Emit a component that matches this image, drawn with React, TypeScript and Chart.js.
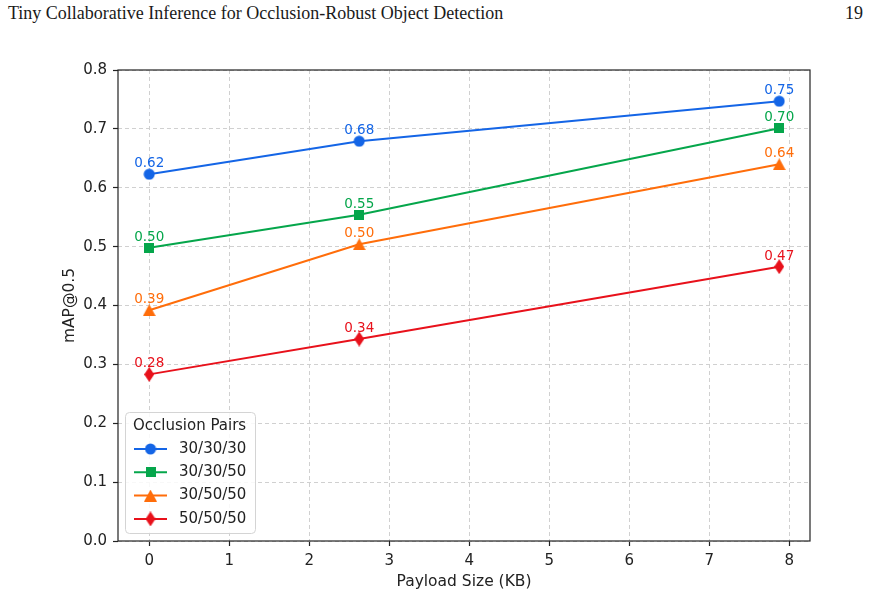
import React, { useEffect, useRef } from "react";
import { Chart, registerables } from "chart.js";

Chart.register(...registerables);

// Payload sizes (KB) at which each occlusion configuration was evaluated
const payloadKB = [0, 2.625, 7.875];

// mAP@0.5 per occlusion pair configuration
const map303030 = [0.623, 0.679, 0.747];
const map303050 = [0.498, 0.554, 0.701];
const map305050 = [0.392, 0.504, 0.64];
const map505050 = [0.283, 0.343, 0.466];

const seriesLabels = ["30/30/30", "30/30/50", "30/50/50", "50/50/50"];
const seriesColors = ["#1465e6", "#05a64b", "#ff6d0a", "#e8111b"];
const xTickValues = [0, 1, 2, 3, 4, 5, 6, 7, 8];

const HEADER_TITLE = "Tiny Collaborative Inference for Occlusion-Robust Object Detection";
const PAGE_NUMBER = "19";
const SANS = "'DejaVu Sans', sans-serif";

type Shape = "circle" | "square" | "triangle" | "thinDiamond";

function makeMarker(shape: Shape, color: string): HTMLCanvasElement {
  const c = document.createElement("canvas");
  const dims: Record<Shape, [number, number]> = {
    circle: [12, 12],
    square: [10, 10],
    triangle: [13, 12],
    thinDiamond: [10, 15],
  };
  const [w, h] = dims[shape];
  c.width = w;
  c.height = h;
  const ctx = c.getContext("2d")!;
  ctx.fillStyle = color;
  ctx.beginPath();
  if (shape === "circle") {
    ctx.arc(w / 2, h / 2, w / 2 - 0.5, 0, Math.PI * 2);
  } else if (shape === "square") {
    ctx.rect(0, 0, w, h);
  } else if (shape === "triangle") {
    ctx.moveTo(w / 2, 0);
    ctx.lineTo(w, h);
    ctx.lineTo(0, h);
    ctx.closePath();
  } else {
    ctx.moveTo(w / 2, 0);
    ctx.lineTo(w, h / 2);
    ctx.lineTo(w / 2, h);
    ctx.lineTo(0, h / 2);
    ctx.closePath();
  }
  ctx.fill();
  return c;
}

// Full rectangular frame around the plotting area
const framePlugin = {
  id: "frame",
  afterDatasetsDraw(chart: any) {
    const { ctx, chartArea: a } = chart;
    ctx.save();
    ctx.strokeStyle = "#222";
    ctx.lineWidth = 1.2;
    ctx.strokeRect(a.left, a.top, a.right - a.left, a.bottom - a.top);
    ctx.restore();
  },
};

// Value labels printed above every marker
const valueLabelPlugin = {
  id: "valueLabels",
  afterDatasetsDraw(chart: any) {
    const { ctx } = chart;
    ctx.save();
    ctx.font = `13.5px ${SANS}`;
    ctx.textAlign = "center";
    ctx.textBaseline = "alphabetic";
    chart.data.datasets.forEach((ds: any, i: number) => {
      const meta = chart.getDatasetMeta(i);
      ctx.fillStyle = ds.borderColor;
      meta.data.forEach((pt: any, j: number) => {
        const v = ds.data[j].y as number;
        ctx.fillText(v.toFixed(2), pt.x, pt.y - 7);
      });
    });
    ctx.restore();
  },
};

// Legend box in the lower-left corner of the plotting area
const legendBoxPlugin = {
  id: "legendBox",
  afterDraw(chart: any) {
    const { ctx, chartArea: a } = chart;
    const x = a.left + 7;
    const y = a.bottom - 129;
    const w = 130;
    const h = 121;
    ctx.save();
    ctx.fillStyle = "rgba(255,255,255,0.85)";
    ctx.strokeStyle = "#d4d4d4";
    ctx.lineWidth = 1;
    ctx.beginPath();
    ctx.roundRect(x + 0.5, y + 0.5, w, h, 4);
    ctx.fill();
    ctx.stroke();

    ctx.fillStyle = "#222";
    ctx.font = `15px ${SANS}`;
    ctx.textBaseline = "middle";
    ctx.textAlign = "left";
    ctx.fillText("Occlusion Pairs", x + 8, y + 14);

    chart.data.datasets.forEach((ds: any, i: number) => {
      const cy = y + 37 + i * 23.3;
      ctx.strokeStyle = ds.borderColor;
      ctx.lineWidth = 2;
      ctx.beginPath();
      ctx.moveTo(x + 9, cy);
      ctx.lineTo(x + 42, cy);
      ctx.stroke();
      const img = ds.pointStyle as HTMLCanvasElement;
      ctx.drawImage(img, x + 25.5 - img.width / 2, cy - img.height / 2);
      ctx.fillStyle = "#222";
      ctx.fillText(ds.label, x + 54, cy);
    });
    ctx.restore();
  },
};

export default function App() {
  const canvasRef = useRef<HTMLCanvasElement | null>(null);

  useEffect(() => {
    const canvas = canvasRef.current;
    if (!canvas) return;

    const shapes: Shape[] = ["circle", "square", "triangle", "thinDiamond"];
    const series = [map303030, map303050, map305050, map505050];

    const datasets = series.map((vals, i) => ({
      label: seriesLabels[i],
      data: vals.map((v, j) => ({ x: payloadKB[j], y: v })),
      borderColor: seriesColors[i],
      backgroundColor: seriesColors[i],
      borderWidth: 2,
      pointStyle: makeMarker(shapes[i], seriesColors[i]) as any,
      pointRadius: 6,
      pointHoverRadius: 6,
      tension: 0,
    }));

    const chart = new Chart(canvas, {
      type: "line",
      data: { datasets },
      options: {
        responsive: false,
        animation: false,
        layout: { padding: { top: 70, right: 60, bottom: 0, left: 0 } },
        plugins: {
          legend: { display: false },
          tooltip: { enabled: false },
        },
        scales: {
          x: {
            type: "linear",
            min: -0.39,
            max: 8.26,
            afterBuildTicks: (scale: any) => {
              scale.ticks = xTickValues.map((v) => ({ value: v }));
            },
            afterFit: (scale: any) => {
              scale.height = 56;
            },
            ticks: {
              color: "#222",
              font: { family: SANS, size: 15 },
              padding: 6,
              maxRotation: 0,
              autoSkip: false,
              callback: (v: any) => String(v),
            },
            grid: {
              color: "#d0d0d0",
              lineWidth: 1,
              drawTicks: true,
              tickLength: 5,
              tickColor: "#222",
              tickWidth: 1.2,
              tickBorderDash: [],
            } as any,
            border: { display: false, dash: [4, 3] },
            title: {
              display: true,
              text: "Payload Size (KB)",
              color: "#222",
              font: { family: SANS, size: 15.5 },
              padding: { top: 0, bottom: 6 },
            },
          },
          y: {
            type: "linear",
            min: 0,
            max: 0.8,
            afterFit: (scale: any) => {
              scale.width = 118;
            },
            ticks: {
              stepSize: 0.1,
              color: "#222",
              font: { family: SANS, size: 15 },
              padding: 6,
              callback: (v: any) => Number(v).toFixed(1),
            },
            grid: {
              color: "#d0d0d0",
              lineWidth: 1,
              drawTicks: true,
              tickLength: 5,
              tickColor: "#222",
              tickWidth: 1.2,
              tickBorderDash: [],
            } as any,
            border: { display: false, dash: [4, 3] },
            title: {
              display: true,
              text: "mAP@0.5",
              color: "#222",
              font: { family: SANS, size: 15.5 },
              padding: { top: 61, bottom: 0 },
            },
          },
        },
      },
      plugins: [framePlugin, valueLabelPlugin, legendBoxPlugin],
    });

    return () => chart.destroy();
  }, []);

  return (
    <div style={{ position: "fixed", left: 0, top: 0, width: 870, height: 597, background: "#fff" }}>
      <div
        style={{
          position: "absolute",
          left: 8,
          top: 3,
          fontFamily: "'Liberation Serif', 'DejaVu Serif', serif",
          fontSize: 18,
          lineHeight: "normal",
          color: "#1a1a1a",
          whiteSpace: "nowrap",
        }}
      >
        {HEADER_TITLE}
      </div>
      <div
        style={{
          position: "absolute",
          right: 7,
          top: 3,
          fontFamily: "'Liberation Serif', 'DejaVu Serif', serif",
          fontSize: 18,
          lineHeight: "normal",
          color: "#1a1a1a",
        }}
      >
        {PAGE_NUMBER}
      </div>
      <canvas ref={canvasRef} width={870} height={597} style={{ position: "absolute", left: 0, top: 0 }} />
    </div>
  );
}
